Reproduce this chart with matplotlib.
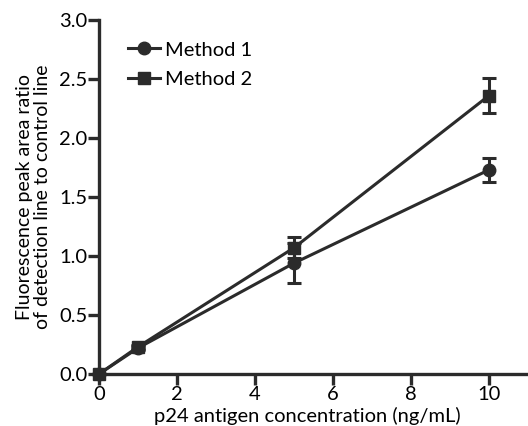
import numpy as np
import matplotlib
matplotlib.use("Agg")
import matplotlib.pyplot as plt

# p24 concentration (ng/mL) and peak-area ratios for both methods
conc = [0, 1, 5, 10]
method1 = [0.0, 0.22, 0.94, 1.73]
method1_err = [0.0, 0.02, 0.17, 0.10]
method2 = [0.0, 0.23, 1.07, 2.36]
method2_err = [0.0, 0.02, 0.09, 0.15]

yticks = [0.0, 0.5, 1.0, 1.5, 2.0, 2.5, 3.0]
xticks = [0, 2, 4, 6, 8, 10]

plt.rcParams['font.family'] = ['Lato', 'DejaVu Sans']
plt.rcParams['font.size'] = 14.5

col = '#2b2b2b'
lw = 2.2
fig = plt.figure(figsize=(5.28, 4.26), dpi=100)
ax = fig.add_axes([0.1875, 0.122, 0.8125, 0.831])

# error bars first, then the lines with markers on top
for y, e in [(method1, method1_err), (method2, method2_err)]:
    ax.errorbar(conc, y, yerr=e, fmt='none', ecolor=col, elinewidth=lw,
                capsize=5, capthick=lw, clip_on=False, zorder=2)
ax.plot(conc, method1, color=col, marker='o', markersize=9, linewidth=lw,
        label='Method 1', clip_on=False, zorder=3)
ax.plot(conc, method2, color=col, marker='s', markersize=9, linewidth=lw,
        label='Method 2', clip_on=False, zorder=3)

ax.set_xlim(0, 11)
ax.set_ylim(0, 3.0)
ax.set_xticks(xticks)
ax.set_yticks(yticks)
ax.set_yticklabels(['%.1f' % v for v in yticks])

for s in ['top', 'right']:
    ax.spines[s].set_visible(False)
for s in ['left', 'bottom']:
    ax.spines[s].set_linewidth(2.4)
    ax.spines[s].set_color(col)
ax.tick_params(width=2.4, length=8, color=col, pad=0.5)

ax.set_xlabel('p24 antigen concentration (ng/mL)')
ax.xaxis.set_label_coords(0.485, -0.092)
ax.set_ylabel('Fluorescence peak area ratio\nof detection line to control line',
              linespacing=1.1, fontsize=14)
ax.yaxis.set_label_coords(-0.112, 0.5)

leg = ax.legend(loc='upper left', bbox_to_anchor=(0.03, 0.985), frameon=False,
                handlelength=1.6, handletextpad=0.25, labelspacing=0.6,
                borderaxespad=0.4)

fig.savefig('out.png', dpi=100)
